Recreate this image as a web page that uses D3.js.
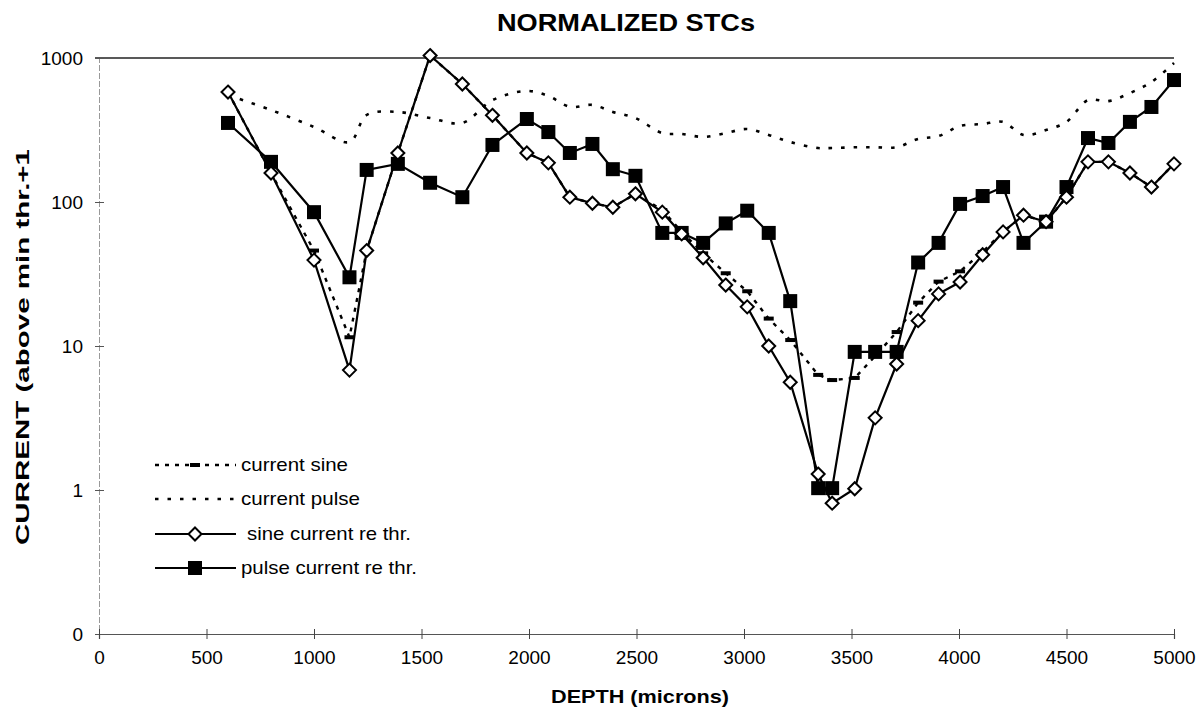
<!DOCTYPE html>
<html>
<head>
<meta charset="utf-8">
<script src="https://cdn.jsdelivr.net/npm/d3@7/dist/d3.min.js"></script>
<style>
  html, body { margin: 0; padding: 0; background: #fff; }
  svg { display: block; }
  text { font-family: Arial, "Liberation Sans", Helvetica, sans-serif; fill: #000; }
</style>
</head>
<body>
<svg id="chart" width="1203" height="714"></svg>
<script>
// ---- Data ----
const depth = [600, 800, 1000, 1165, 1245, 1390, 1540, 1690, 1830, 1990, 2090, 2190, 2295, 2390, 2495,
  2620, 2710, 2810, 2915, 3015, 3115, 3215, 3345, 3410, 3515, 3610, 3710, 3810, 3905, 4005,
  4110, 4205, 4300, 4405, 4500, 4600, 4695, 4795, 4895, 5000];

const currentSine = [580, 159, 46, 11.5, 46, 219, 1040, 660, 400, 219, 187, 108, 98, 92, 114,
  88, 62, 44, 32, 24, 15.5, 11, 6.3, 5.8, 6.0, 8.5, 12.5, 20, 28, 33,
  45, 62, 81, 73, 108, 190, 190, 159, 127, 184];

const currentPulse = [553, 435, 332, 261, 402, 422, 383, 354, 510, 590, 545, 458, 472, 422, 383,
  301, 297, 283, 301, 321, 292, 261, 237, 237, 240, 240, 240, 274, 287, 337,
  348, 360, 292, 316, 360, 510, 502, 571, 681, 923];

const sineReThr = [580, 159, 39.5, 6.8, 46, 219, 1040, 660, 400, 219, 187, 108, 98, 92, 114,
  85, 60, 41, 26.5, 18.7, 10, 5.6, 1.29, 0.81, 1.02, 3.17, 7.5, 15, 23, 27.8,
  43, 62, 81, 73, 108, 190, 190, 159, 127, 184];

const pulseReThr = [354, 190, 85, 30, 167, 184, 136, 108, 249, 377, 306, 219, 253, 169, 152,
  61, 61, 52, 71, 87, 61, 20.5, 1.03, 1.03, 9.1, 9.1, 9.1, 38, 52, 97,
  110, 127, 52, 73, 127, 278, 257, 360, 457, 703];

const xTicks = [0, 500, 1000, 1500, 2000, 2500, 3000, 3500, 4000, 4500, 5000];
const yTicks = [0.1, 1, 10, 100, 1000];
const yTickLabels = ["0", "1", "10", "100", "1000"];

const legendLabels = ["current sine", "current pulse", "sine current re thr.", "pulse current re thr."];

(function draw() {
  const svg = d3.select("#chart");
  const mLeft = 99, mRight = 1174, mTop = 58, mBottom = 634;

  const x = d3.scaleLinear().domain([0, 5000]).range([mLeft, mRight]);
  const y = d3.scaleLog().domain([0.1, 1000]).range([mBottom, mTop]);

  const zip = (vals) => depth.map((d, i) => [d, vals[i]]);
  const fam = 'Arial, "Liberation Sans", sans-serif';

  // Title
  svg.append("text").attr("x", 497).attr("y", 31)
    .attr("textLength", 258).attr("lengthAdjust", "spacingAndGlyphs")
    .style("font-size", "23px").style("font-weight", "bold").text("NORMALIZED STCs");

  // Axis titles
  svg.append("text").attr("transform", "translate(29,545) rotate(-90)")
    .attr("textLength", 396).attr("lengthAdjust", "spacingAndGlyphs")
    .style("font-size", "19px").style("font-weight", "bold").text("CURRENT (above min thr.+1");
  svg.append("text").attr("x", 551).attr("y", 703)
    .attr("textLength", 178).attr("lengthAdjust", "spacingAndGlyphs")
    .style("font-size", "19px").style("font-weight", "bold").text("DEPTH (microns)");

  // Top line at 1000
  svg.append("line").attr("x1", mLeft - 4).attr("x2", mRight).attr("y1", y(1000)).attr("y2", y(1000))
    .attr("stroke", "#222").attr("stroke-width", 1.3);

  // Y axis
  const yAxis = d3.axisLeft(y).tickValues(yTicks).tickFormat((d, i) => yTickLabels[i])
    .tickSize(4).tickPadding(12);
  const gy = svg.append("g").attr("transform", `translate(${mLeft},0)`).call(yAxis);
  gy.select(".domain").attr("stroke", "#999").attr("stroke-dasharray", "6,2").attr("stroke-width", 1);
  gy.selectAll(".tick line").attr("stroke", "#555").attr("x2", 5).attr("x1", -4);
  gy.selectAll(".tick text").style("font-size", "19px").attr("fill", "#000")
    .style("font-family", fam);

  // X axis
  const xAxis = d3.axisBottom(x).tickValues(xTicks).tickFormat(d3.format("d")).tickSize(5).tickPadding(12);
  const gx = svg.append("g").attr("transform", `translate(0,${mBottom})`).call(xAxis);
  gx.select(".domain").attr("stroke", "#555").attr("stroke-width", 1.2);
  gx.selectAll(".tick line").attr("stroke", "#444").attr("y1", -5).attr("y2", 5);
  gx.selectAll(".tick text").style("font-size", "19px").attr("fill", "#000")
    .style("font-family", fam);

  // ---- Series ----
  const lineLin = d3.line().x(d => x(d[0])).y(d => y(d[1]));
  const lineSmooth = d3.line().x(d => x(d[0])).y(d => y(d[1])).curve(d3.curveCatmullRom.alpha(0.5));

  // current pulse (dotted, smoothed)
  svg.append("path").datum(zip(currentPulse)).attr("d", lineSmooth)
    .attr("fill", "none").attr("stroke", "#000").attr("stroke-width", 2.6)
    .attr("stroke-dasharray", "3.5,9");

  // current sine (dashed with dash markers)
  svg.append("path").datum(zip(currentSine)).attr("d", lineLin)
    .attr("fill", "none").attr("stroke", "#000").attr("stroke-width", 2.4)
    .attr("stroke-dasharray", "4,6");
  svg.append("g").selectAll("rect").data(zip(currentSine)).join("rect")
    .attr("x", d => x(d[0]) - 5).attr("y", d => y(d[1]) - 2).attr("width", 10).attr("height", 4)
    .attr("fill", "#000");

  // pulse current re thr. (solid with black squares)
  svg.append("path").datum(zip(pulseReThr)).attr("d", lineLin)
    .attr("fill", "none").attr("stroke", "#000").attr("stroke-width", 2.2);
  svg.append("g").selectAll("rect").data(zip(pulseReThr)).join("rect")
    .attr("x", d => x(d[0]) - 7).attr("y", d => y(d[1]) - 7).attr("width", 14).attr("height", 14)
    .attr("fill", "#000");

  // sine current re thr. (solid with open diamonds)
  svg.append("path").datum(zip(sineReThr)).attr("d", lineLin)
    .attr("fill", "none").attr("stroke", "#000").attr("stroke-width", 2.2);
  const diamond = "M0,-6.5L6.5,0L0,6.5L-6.5,0Z";
  svg.append("g").selectAll("path").data(zip(sineReThr)).join("path")
    .attr("transform", d => `translate(${x(d[0])},${y(d[1])})`).attr("d", diamond)
    .attr("fill", "#fff").attr("stroke", "#000").attr("stroke-width", 2);

  // ---- Legend ----
  const lg = svg.append("g");
  const rows = [465, 499, 534, 568];
  const lx1 = 155, lx2 = 236, lmid = 195;
  lg.append("line").attr("x1", lx1).attr("x2", lx2).attr("y1", rows[0]).attr("y2", rows[0])
    .attr("stroke", "#000").attr("stroke-width", 2.4).attr("stroke-dasharray", "4,6");
  lg.append("rect").attr("x", lmid - 5).attr("y", rows[0] - 2).attr("width", 10).attr("height", 4).attr("fill", "#000");
  lg.append("line").attr("x1", lx1).attr("x2", lx2).attr("y1", rows[1]).attr("y2", rows[1])
    .attr("stroke", "#000").attr("stroke-width", 2.6).attr("stroke-dasharray", "3.5,9");
  lg.append("line").attr("x1", lx1).attr("x2", lx2).attr("y1", rows[2]).attr("y2", rows[2])
    .attr("stroke", "#000").attr("stroke-width", 2.2);
  lg.append("path").attr("transform", `translate(${lmid},${rows[2]})`).attr("d", diamond)
    .attr("fill", "#fff").attr("stroke", "#000").attr("stroke-width", 2);
  lg.append("line").attr("x1", lx1).attr("x2", lx2).attr("y1", rows[3]).attr("y2", rows[3])
    .attr("stroke", "#000").attr("stroke-width", 2.2);
  lg.append("rect").attr("x", lmid - 7).attr("y", rows[3] - 7).attr("width", 14).attr("height", 14).attr("fill", "#000");

  const lgX = [241, 241, 247, 241];
  const lgW = [107, 119, 164, 176];
  lg.selectAll("text.lbl").data(legendLabels).join("text").attr("class", "lbl")
    .attr("x", (d, i) => lgX[i]).attr("y", (d, i) => rows[i] + 6)
    .attr("textLength", (d, i) => lgW[i]).attr("lengthAdjust", "spacingAndGlyphs")
    .style("font-size", "19px")
    .text(d => d);
})();
</script>
</body>
</html>
